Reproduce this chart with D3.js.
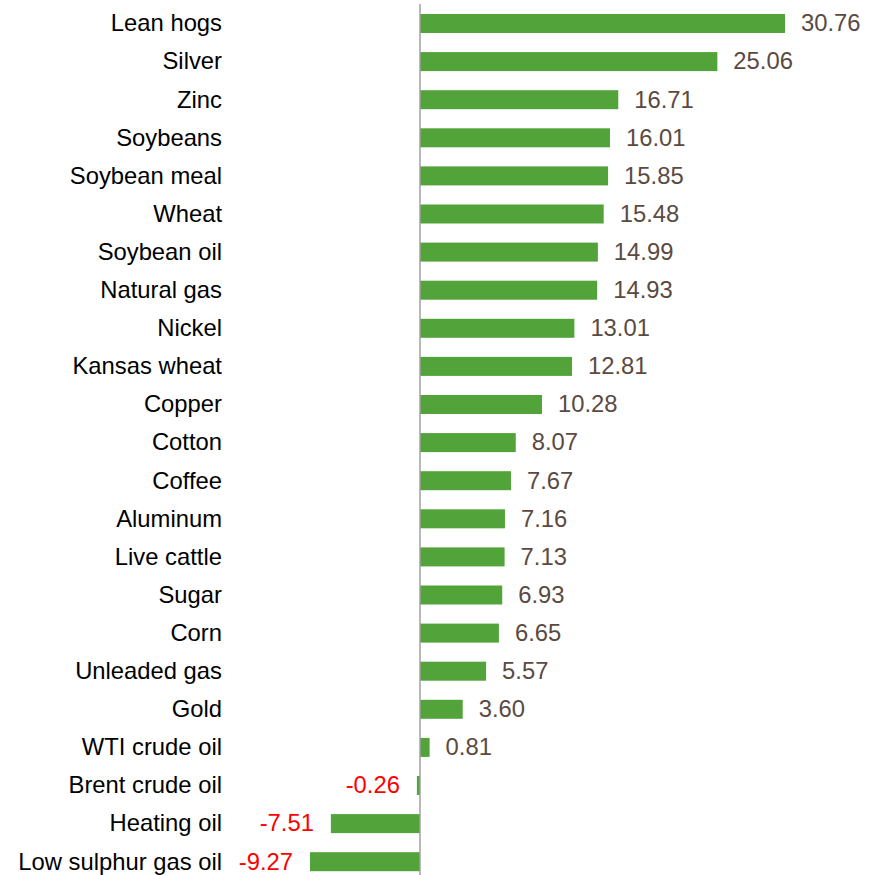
<!DOCTYPE html>
<html>
<head>
<meta charset="utf-8">
<script src="https://cdn.jsdelivr.net/npm/d3@7"></script>
<style>
  body { margin: 0; background: #fff; }
  svg { display: block; }
</style>
</head>
<body>
<div id="chart"></div>
<script>
  "use strict";

  // data
  var categories = ['Lean hogs', 'Silver', 'Zinc', 'Soybeans', 'Soybean meal', 'Wheat',
    'Soybean oil', 'Natural gas', 'Nickel', 'Kansas wheat', 'Copper', 'Cotton', 'Coffee',
    'Aluminum', 'Live cattle', 'Sugar', 'Corn', 'Unleaded gas', 'Gold', 'WTI crude oil',
    'Brent crude oil', 'Heating oil', 'Low sulphur gas oil'];
  var values = [30.76, 25.06, 16.71, 16.01, 15.85, 15.48, 14.99, 14.93, 13.01, 12.81,
    10.28, 8.07, 7.67, 7.16, 7.13, 6.93, 6.65, 5.57, 3.60, 0.81, -0.26, -7.51, -9.27];

  var width = 875,
    height = 875;

  var rows = categories.map(function(c, i) {
    return { name: c, value: values[i] };
  });

  var svg = d3.select('#chart')
    .append('svg')
    .attr('width', width)
    .attr('height', height);

  var x = d3.scaleLinear()
    .domain([0, 30.76])
    .range([420, 785]);

  var y = d3.scaleBand()
    .domain(categories)
    .range([4.45, 880.75]);

  var barH = 19;
  var font = 'Liberation Sans, Arial, sans-serif';

  // bars
  svg.selectAll('rect.bar')
    .data(rows)
    .enter()
    .append('rect')
    .attr('class', 'bar')
    .attr('x', function(d) { return x(Math.min(0, d.value)); })
    .attr('y', function(d) { return y(d.name) + (y.bandwidth() - barH) / 2; })
    .attr('width', function(d) { return Math.abs(x(d.value) - x(0)); })
    .attr('height', barH)
    .attr('fill', '#52a33a');

  // zero line
  svg.append('line')
    .attr('x1', x(0))
    .attr('x2', x(0))
    .attr('y1', 4)
    .attr('y2', height)
    .attr('stroke', '#a0a0a0')
    .attr('stroke-width', 1.5);

  // category labels
  svg.selectAll('text.cat')
    .data(rows)
    .enter()
    .append('text')
    .attr('class', 'cat')
    .attr('x', 222)
    .attr('y', function(d) { return y(d.name) + y.bandwidth() / 2; })
    .attr('dy', '0.33em')
    .attr('text-anchor', 'end')
    .attr('font-family', font)
    .attr('font-size', 23.8)
    .attr('fill', '#000')
    .text(function(d) { return d.name; });

  // value labels
  svg.selectAll('text.val')
    .data(rows)
    .enter()
    .append('text')
    .attr('class', 'val')
    .attr('x', function(d) { return d.value >= 0 ? x(d.value) + 16 : x(d.value) - 17; })
    .attr('y', function(d) { return y(d.name) + y.bandwidth() / 2; })
    .attr('dy', '0.33em')
    .attr('text-anchor', function(d) { return d.value >= 0 ? 'start' : 'end'; })
    .attr('font-family', font)
    .attr('font-size', 23.8)
    .attr('fill', function(d) { return d.value >= 0 ? '#5a4a42' : '#ff0000'; })
    .text(function(d) { return d.value.toFixed(2); });
</script>
</body>
</html>
